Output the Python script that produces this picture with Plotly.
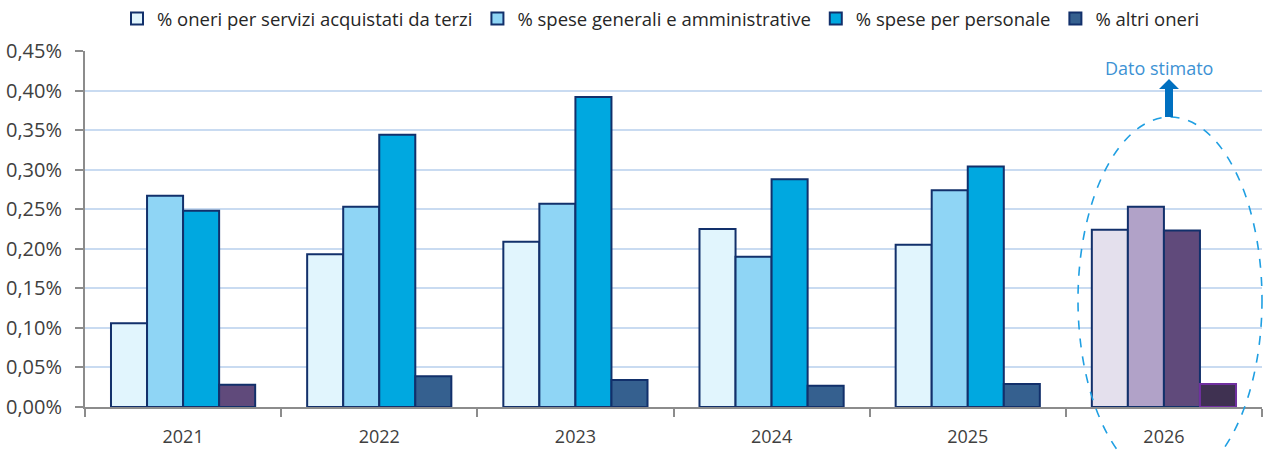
import plotly.graph_objects as go

years = ["2021", "2022", "2023", "2024", "2025", "2026"]
series_names = [
    "% oneri per servizi acquistati da terzi",
    "% spese generali e amministrative",
    "% spese per personale",
    "% altri oneri",
]
oneri_servizi = [0.00106, 0.00193, 0.00209, 0.00225, 0.00205, 0.00224]
spese_generali = [0.00267, 0.00253, 0.00257, 0.00190, 0.00274, 0.00253]
spese_personale = [0.00248, 0.00344, 0.00392, 0.00288, 0.00304, 0.00223]
altri_oneri = [0.00028, 0.00039, 0.00034, 0.00027, 0.00029, 0.00029]
annotation_text = "Dato stimato"

values = [oneri_servizi, spese_generali, spese_personale, altri_oneri]
base_colors = ["#e1f5fd", "#8fd5f5", "#00a8e0", "#35608f"]
est_colors = ["#e4e0ed", "#b1a2c8", "#604a7b", "#3f3151"]
outline = "#12306b"

fig = go.Figure()
for i, (name, vals) in enumerate(zip(series_names, values)):
    colors = [base_colors[i]] * len(years)
    lines = [outline] * len(years)
    colors[-1] = est_colors[i]
    if i == 3:
        colors[0] = "#604a7b"
        lines[-1] = "#7030a0"
    fig.add_trace(go.Bar(
        x=years, y=vals, name=name, showlegend=False,
        marker=dict(color=colors, line=dict(color=lines, width=2)),
        offsetgroup=str(i),
    ))
    fig.add_trace(go.Scatter(
        x=[None], y=[None], name=name, mode="markers",
        marker=dict(symbol="square", size=12, color=base_colors[i],
                    line=dict(color=outline, width=2)),
    ))

L, R, T, B = 85, 2, 51, 45
W, H = 1264, 452
pw, ph = W - L - R, H - T - B

def px(x):
    return (x - L) / pw

def py(y):
    return (H - B - y) / ph

fig.add_shape(type="circle", xref="paper", yref="paper",
              x0=px(1078), x1=px(1262), y0=py(483), y1=py(117),
              line=dict(color="#1f9fe2", width=1.6, dash="dash"))
arrow = (f"M {px(1165)} {py(117)} L {px(1165)} {py(89)} L {px(1159)} {py(89)} "
         f"L {px(1169)} {py(79)} L {px(1179)} {py(89)} L {px(1173)} {py(89)} "
         f"L {px(1173)} {py(117)} Z")
fig.add_shape(type="path", xref="paper", yref="paper", path=arrow,
              fillcolor="#0070c0", line=dict(color="#0070c0", width=0))
fig.add_annotation(xref="paper", yref="paper", x=px(1159), y=py(68),
                   xanchor="center", yanchor="middle",
                   text=annotation_text, showarrow=False,
                   font=dict(size=18, color="#3d92d4"))

fig.update_layout(
    width=W, height=H,
    margin=dict(l=L, r=R, t=T, b=B, autoexpand=False),
    plot_bgcolor="white", paper_bgcolor="white",
    barmode="group", bargap=0.265, bargroupgap=0,
    separators=",.",
    font=dict(family="Open Sans", color="#404040"),
    legend=dict(orientation="h", x=661 / W, xanchor="center", xref="container",
                y=1.0, yanchor="top", yref="container",
                font=dict(size=18.5, color="#262626"), itemwidth=30,
                traceorder="normal"),
    showlegend=True,
)
fig.update_yaxes(range=[0, 0.0045], dtick=0.0005, tickformat=".2%",
                 showgrid=True, gridcolor="#c9dbf1", gridwidth=2,
                 showline=True, linecolor="#8c8c8c", linewidth=2,
                 ticks="outside", ticklen=8, tickcolor="#8c8c8c", tickwidth=2,
                 ticklabelstandoff=9, automargin=False,
                 tickfont=dict(size=20, color="#404040"), zeroline=False)
fig.update_xaxes(showline=True, linecolor="#8c8c8c", linewidth=2,
                 ticks="outside", tickson="boundaries", ticklen=8,
                 tickcolor="#8c8c8c", tickwidth=2, automargin=False,
                 ticklabelstandoff=12,
                 tickfont=dict(size=18, color="#404040"))

fig.write_html("out.html", config={"displayModeBar": False},
               post_script="document.body.style.margin='0';"
                           "document.body.style.overflow='hidden';")
